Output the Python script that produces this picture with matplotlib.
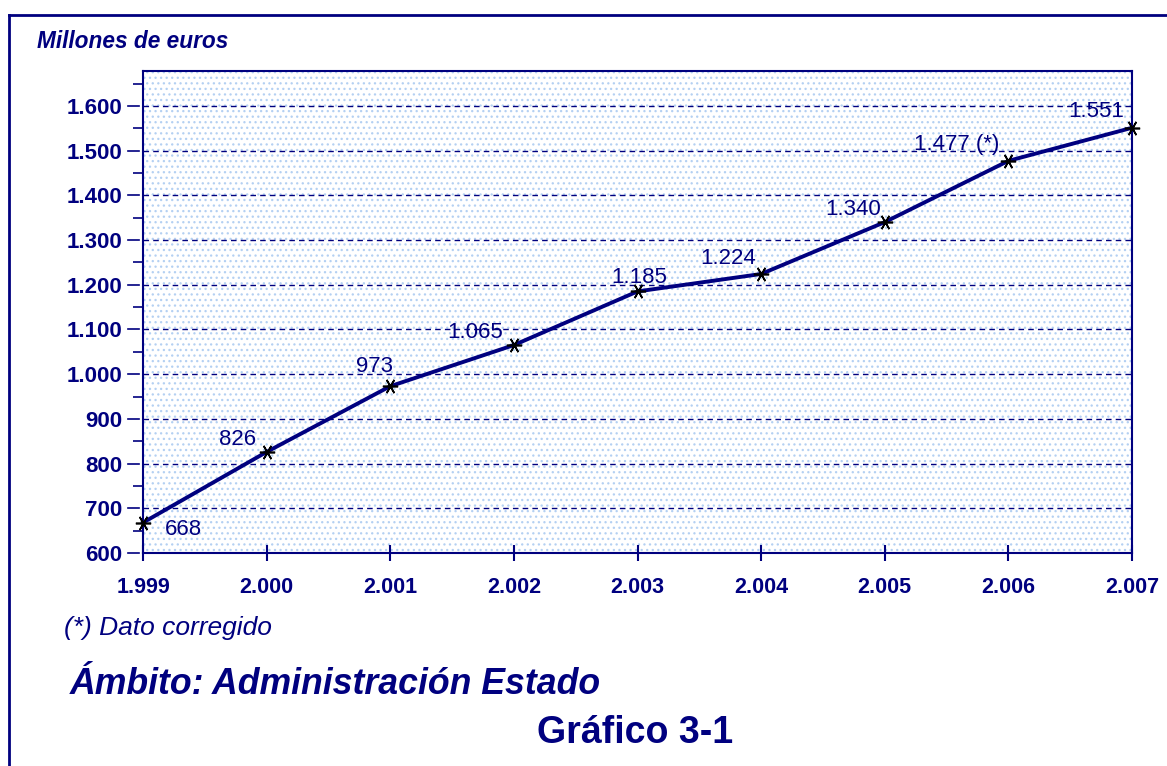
import matplotlib
matplotlib.use('Agg')
from matplotlib import pyplot as plt
from matplotlib.lines import Line2D
from matplotlib.ticker import MultipleLocator, FuncFormatter

plt.rcParams['font.family'] = ['Liberation Sans', 'DejaVu Sans']
plt.rcParams['hatch.linewidth'] = 0.9

navy = '#00007f'

years = [1999, 2000, 2001, 2002, 2003, 2004, 2005, 2006, 2007]
values = [668, 826, 973, 1065, 1185, 1224, 1340, 1477, 1551]
labels = ['668', '826', '973', '1.065', '1.185', '1.224', '1.340', '1.477 (*)', '1.551']
# desplazamiento de las etiquetas en puntos (dx, dy)
offsets = [(16, -5), (-34, 9), (-25, 14), (-48, 9), (-19, 10), (-44, 11.5), (-43, 9), (-68, 11.5), (-46, 11.5)]


def miles(v, pos):
    # formato español: punto como separador de miles
    return '{:,.0f}'.format(v).replace(',', '.')


fig = plt.figure(figsize=(11.67, 7.66), dpi=100)
ax = fig.add_axes([143 / 1167, 1 - 553 / 766, (1132 - 143) / 1167, (553 - 71) / 766])

# fondo punteado
ax.set_facecolor('white')
ax.patch.set_hatch('...')
ax.patch.set_edgecolor('#b4d0f2')
ax.patch.set_linewidth(0)

ax.plot(years, values, color=navy, lw=2.8, zorder=3, clip_on=False)
ax.plot(years, values, linestyle='none', marker=(6, 2, 90), ms=11, mec='black', mew=1.2,
        zorder=4, clip_on=False)

for x, y, t, (dx, dy) in zip(years, values, labels, offsets):
    ax.annotate(t, (x, y), xytext=(dx, dy), textcoords='offset points',
                fontsize=16, color=navy, ha='left', va='center', zorder=5)

ax.set_xlim(1999, 2007)
ax.set_ylim(600, 1678)
ax.set_xticks(years)
ax.xaxis.set_major_formatter(FuncFormatter(miles))
ax.yaxis.set_minor_locator(MultipleLocator(50))
ax.yaxis.set_major_formatter(FuncFormatter(miles))
ax.set_yticks([600 + 100 * i for i in range(11)])

ax.grid(axis='y', which='major', color=navy, linestyle=(0, (4, 3)), lw=1)
ax.tick_params(axis='y', which='major', length=0, pad=15, labelsize=16, labelcolor=navy)
ax.tick_params(axis='y', which='minor', length=7, width=1.2, color=navy)
ax.tick_params(axis='x', which='major', direction='inout', length=12, width=1.5, color=navy,
               pad=11, labelsize=15.5, labelcolor=navy)
for lab in ax.get_xticklabels() + ax.get_yticklabels():
    lab.set_fontweight('bold')

# pequeños guiones a la izquierda de cada línea de rejilla
for v in range(600, 1700, 100):
    ax.plot([-0.015, -0.004], [v, v], transform=ax.get_yaxis_transform(),
            color=navy, lw=1.2, clip_on=False)

for s in ax.spines.values():
    s.set_color(navy)
    s.set_linewidth(1.5)

# marco exterior (sólo arriba e izquierda)
fig.add_artist(Line2D([9 / 1167, 1], [1 - 15 / 766, 1 - 15 / 766], color=navy, lw=2))
fig.add_artist(Line2D([9 / 1167, 9 / 1167], [0, 1 - 15 / 766], color=navy, lw=2))

fig.text(37 / 1167, 1 - 41 / 766, 'Millones de euros', fontsize=16.3, fontweight='bold',
         style='italic', color=navy, va='center', ha='left')
fig.text(64 / 1167, 1 - 628 / 766, '(*) Dato corregido', fontsize=19,
         style='italic', color=navy, va='center', ha='left')
fig.text(70 / 1167, 1 - 685 / 766, 'Ámbito: Administración Estado', fontsize=25.7, fontweight='bold',
         style='italic', color=navy, va='center', ha='left')
fig.text(635 / 1167, 1 - 733 / 766, 'Gráfico 3-1', fontsize=27, fontweight='bold',
         color=navy, va='center', ha='center')

plt.savefig('out.png', dpi=100)
